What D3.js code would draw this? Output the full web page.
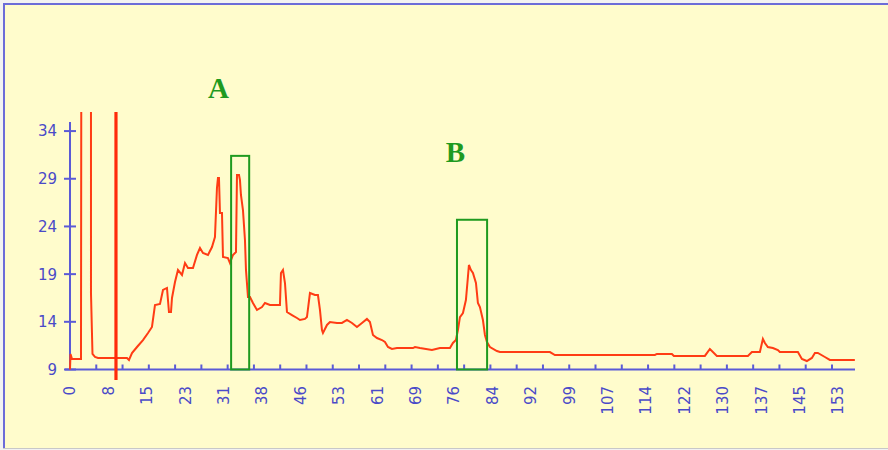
<!DOCTYPE html>
<html>
<head>
<meta charset="utf-8">
<script src="https://cdn.jsdelivr.net/npm/d3@7"></script>
<style>
  html, body { margin: 0; padding: 0; background: #f2f2f2; }
  svg { display: block; }
</style>
</head>
<body>
<svg id="chart" width="888" height="450"></svg>
<script>
// ---- data ----
const times = [0, 0.1, 0.4, 2.19, 2.29, 4.18, 4.18, 4.48, 4.98, 5.58, 11.35, 11.75, 12.35, 13.35, 14.54, 15.54, 16.33, 16.93, 17.93, 18.53, 19.32, 19.72, 20.12, 20.32, 20.92, 21.51, 22.31, 22.91, 23.51, 24.5, 25.3, 25.9, 26.49, 27.49, 28.29, 28.88, 29.28, 29.48, 29.68, 29.88, 30.28, 30.48, 31.47, 31.87, 32.47, 33.07, 33.27, 33.67, 33.86, 34.06, 34.46, 34.86, 35.06, 35.46, 35.86, 36.45, 37.25, 38.25, 38.84, 39.84, 41.83, 42.03, 42.43, 42.83, 43.23, 44.22, 45.22, 45.82, 46.81, 47.21, 47.81, 48.8, 49.4, 49.8, 50.2, 50.4, 51.2, 51.79, 53.19, 54.18, 55.18, 56.18, 57.17, 58.17, 59.16, 59.76, 60.36, 61.16, 62.15, 62.75, 63.35, 64.14, 65.14, 68.33, 68.73, 69.72, 72.11, 73.71, 75.7, 76.29, 76.89, 77.29, 77.69, 78.29, 78.88, 79.28, 79.48, 79.88, 80.28, 80.88, 81.27, 81.67, 82.27, 82.67, 83.07, 83.67, 85.06, 85.66, 95.62, 96.61, 116.53, 116.93, 119.92, 120.32, 126.49, 127.49, 128.88, 135.06, 135.86, 137.45, 138.05, 138.45, 139.04, 140.04, 141.04, 141.43, 145.02, 145.82, 146.81, 147.81, 148.41, 149.0, 150.4, 151.39, 156.37];
const values = [9.0, 10.63, 10.1, 10.1, 60, 60, 17.02, 10.63, 10.31, 10.21, 10.21, 10.0, 10.73, 11.36, 12.09, 12.83, 13.46, 15.76, 15.87, 17.34, 17.55, 15.03, 15.03, 16.5, 18.18, 19.44, 18.91, 20.17, 19.64, 19.64, 21.01, 21.74, 21.22, 21.01, 21.84, 22.89, 28.03, 29.08, 29.08, 25.41, 25.41, 20.8, 20.69, 20.17, 21.01, 21.32, 29.39, 29.39, 28.87, 27.3, 25.72, 22.58, 19.44, 16.6, 16.6, 15.97, 15.24, 15.55, 15.97, 15.76, 15.76, 19.12, 19.43, 18.07, 15.03, 14.71, 14.4, 14.19, 14.3, 14.5, 17.02, 16.81, 16.81, 15.24, 13.14, 12.83, 13.67, 13.98, 13.88, 13.88, 14.19, 13.88, 13.46, 13.88, 14.3, 13.98, 12.62, 12.3, 12.09, 11.88, 11.36, 11.15, 11.25, 11.25, 11.36, 11.25, 11.04, 11.25, 11.25, 11.78, 12.09, 13.14, 14.5, 14.92, 16.29, 18.7, 19.96, 19.43, 19.12, 18.07, 15.97, 15.55, 14.19, 12.62, 11.88, 11.36, 10.94, 10.83, 10.83, 10.52, 10.52, 10.63, 10.63, 10.42, 10.42, 11.15, 10.42, 10.42, 10.83, 10.83, 12.2, 11.78, 11.36, 11.25, 11.04, 10.83, 10.83, 10.1, 9.89, 10.21, 10.73, 10.73, 10.31, 10.0, 10.0];

const yTicks = [9, 14, 19, 24, 29, 34];
const xTickLabels = ["0", "8", "15", "23", "31", "38", "46", "53", "61", "69", "76", "84", "92", "99", "107", "114", "122", "130", "137", "145", "153"];
const xLabelStep = 7.65;       // spacing of the label positions (time units)
const xMinorStep = 5.235;      // spacing of the unlabeled tick marks
const markerTime = 9.16;       // thick vertical marker line
const regions = [
  { name: "A", x0: 32.1, x1: 35.7, top: 31.4, labelX: 29.6, labelY: 37.5 },
  { name: "B", x0: 77.1, x1: 83.1, top: 24.7, labelX: 76.8, labelY: 30.8 }
];

// ---- drawing ----
const svg = d3.select("#chart");
const W = 888, H = 450;

const x = d3.scaleLinear().domain([0, 156.4]).range([70, 855]);
const y = d3.scaleLinear().domain([9, 36]).range([369.5, 112]);

const axisColor = "#5a5ad6";
const textColor = "#4a4ac8";
const lineColor = "#ff3c14";
const green = "#1f9a1f";

// background and frame
svg.append("rect").attr("x", 3).attr("y", 3).attr("width", W - 3).attr("height", H - 5).attr("fill", "#fffccc");
svg.append("line").attr("x1", 3).attr("x2", W).attr("y1", 4).attr("y2", 4).attr("stroke", "#6c6cd8").attr("stroke-width", 2);
svg.append("line").attr("x1", 4).attr("x2", 4).attr("y1", 3).attr("y2", H - 2).attr("stroke", "#6c6cd8").attr("stroke-width", 2);
svg.append("line").attr("x1", 3).attr("x2", W).attr("y1", H - 1.5).attr("y2", H - 1.5).attr("stroke", "#c8c8c8").attr("stroke-width", 1);

// clip for data
svg.append("defs").append("clipPath").attr("id", "plotclip")
  .append("rect").attr("x", 60).attr("y", y(36)).attr("width", 800).attr("height", 300);

// y axis
const gy = svg.append("g");
gy.append("line").attr("x1", x(0)).attr("x2", x(0)).attr("y1", y(9)).attr("y2", y(34.95))
  .attr("stroke", axisColor).attr("stroke-width", 2);
gy.selectAll("line.yt").data(yTicks).join("line").attr("class", "yt")
  .attr("x1", x(0) - 6).attr("x2", x(0) + 6)
  .attr("y1", d => y(d)).attr("y2", d => y(d))
  .attr("stroke", axisColor).attr("stroke-width", 2);
gy.selectAll("text").data(yTicks).join("text")
  .attr("x", 57).attr("y", d => y(d)).attr("dy", "0.36em")
  .attr("text-anchor", "end")
  .attr("font-family", "DejaVu Sans, sans-serif").attr("font-size", 15)
  .attr("fill", textColor)
  .text(d => d);

// x axis
const gx = svg.append("g");
gx.append("line").attr("x1", x(0) - 5).attr("x2", x(156.4)).attr("y1", y(9)).attr("y2", y(9))
  .attr("stroke", axisColor).attr("stroke-width", 2);
const minor = d3.range(1, 30).map(k => k * xMinorStep);
gx.selectAll("line.xt").data(minor).join("line").attr("class", "xt")
  .attr("x1", d => x(d)).attr("x2", d => x(d))
  .attr("y1", y(9)).attr("y2", y(9) - 5)
  .attr("stroke", axisColor).attr("stroke-width", 2);
gx.selectAll("text").data(xTickLabels).join("text")
  .attr("transform", (d, i) => `translate(${x(i * xLabelStep)},386) rotate(-90)`)
  .attr("dy", "0.36em")
  .attr("text-anchor", "end")
  .attr("font-family", "DejaVu Sans, sans-serif").attr("font-size", 15)
  .attr("fill", textColor)
  .text(d => d);

// data line
const pts = times.map((t, i) => [t, values[i]]);
svg.append("path")
  .attr("clip-path", "url(#plotclip)")
  .attr("d", d3.line().x(d => x(d[0])).y(d => y(d[1]))(pts))
  .attr("fill", "none").attr("stroke", lineColor).attr("stroke-width", 2)
  .attr("stroke-linejoin", "miter");

// marker line
svg.append("line")
  .attr("x1", x(markerTime)).attr("x2", x(markerTime))
  .attr("y1", y(36)).attr("y2", y(9) + 10.5)
  .attr("stroke", "#ff2a0a").attr("stroke-width", 3.2);

// region boxes
svg.selectAll("rect.reg").data(regions).join("rect").attr("class", "reg")
  .attr("x", d => x(d.x0)).attr("y", d => y(d.top))
  .attr("width", d => x(d.x1) - x(d.x0)).attr("height", d => y(9) - y(d.top))
  .attr("fill", "none").attr("stroke", green).attr("stroke-width", 2);
svg.selectAll("text.reg").data(regions).join("text").attr("class", "reg")
  .attr("x", d => x(d.labelX)).attr("y", d => y(d.labelY))
  .attr("text-anchor", "middle")
  .attr("font-family", "Liberation Serif, serif").attr("font-weight", "bold").attr("font-size", 29)
  .attr("fill", green)
  .text(d => d.name);
</script>
</body>
</html>
